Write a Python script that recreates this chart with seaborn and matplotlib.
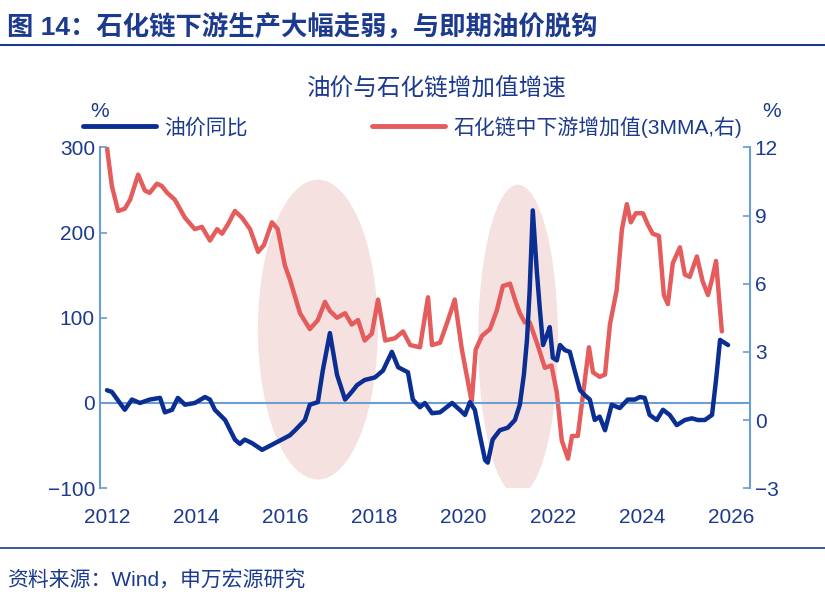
import numpy as np
import pandas as pd
import matplotlib
matplotlib.use("Agg")
import matplotlib.pyplot as plt
import seaborn as sns
from matplotlib.patches import Ellipse

# 油价同比 (%), left axis
oil_t = [2012.00, 2012.11, 2012.40, 2012.56, 2012.74, 2012.96, 2013.19, 2013.30, 2013.46, 2013.59,
         2013.75, 2013.97, 2014.20, 2014.31, 2014.42, 2014.65, 2014.87, 2014.98, 2015.09, 2015.25,
         2015.48, 2015.70, 2015.92, 2016.10, 2016.22, 2016.44, 2016.55, 2016.73, 2016.84, 2017.00,
         2017.16, 2017.34, 2017.49, 2017.61, 2017.78, 2018.01, 2018.19, 2018.39, 2018.53, 2018.75,
         2018.86, 2019.02, 2019.13, 2019.29, 2019.47, 2019.74, 2019.91, 2020.03, 2020.14, 2020.25,
         2020.36, 2020.48, 2020.54, 2020.65, 2020.81, 2020.99, 2021.15, 2021.26, 2021.35, 2021.42,
         2021.48, 2021.55, 2021.64, 2021.71, 2021.78, 2021.87, 2021.93, 2022.00, 2022.09, 2022.16,
         2022.27, 2022.38, 2022.49, 2022.61, 2022.72, 2022.83, 2022.94, 2023.05, 2023.17, 2023.32,
         2023.50, 2023.68, 2023.84, 2023.95, 2024.06, 2024.17, 2024.33, 2024.47, 2024.62, 2024.78,
         2024.96, 2025.12, 2025.25, 2025.41, 2025.57, 2025.66, 2025.75, 2025.93]
oil_v = [15, 13, -8, 4, 0, 4, 6, -11, -8, 6,
         -2, 0, 7, 4, -8, -20, -43, -48, -43, -47,
         -55, -49, -43, -38, -32, -20, -2, 1, 38, 82,
         33, 4, 13, 21, 27, 30, 38, 60, 42, 36,
         4, -5, 0, -12, -11, 0, -8, -14, 1, -8,
         -37, -67, -70, -43, -32, -29, -20, -2, 33, 74,
         132, 226, 155, 109, 68, 80, 89, 53, 50, 68,
         62, 60, 38, 15, 9, 4, -20, -16, -32, -2,
         -6, 4, 4, 7, 6, -14, -20, -8, -14, -26,
         -20, -18, -20, -20, -14, 27, 74, 68]

# 石化链中下游增加值 3MMA (%), right axis
chem_t = [2012.00, 2012.11, 2012.25, 2012.40, 2012.52, 2012.70, 2012.85, 2012.96, 2013.12, 2013.23,
          2013.35, 2013.52, 2013.75, 2013.97, 2014.13, 2014.31, 2014.47, 2014.58, 2014.71, 2014.87,
          2015.03, 2015.21, 2015.39, 2015.52, 2015.70, 2015.83, 2015.99, 2016.10, 2016.33, 2016.55,
          2016.73, 2016.89, 2017.00, 2017.16, 2017.34, 2017.49, 2017.63, 2017.78, 2017.94, 2018.08,
          2018.24, 2018.46, 2018.64, 2018.80, 2019.02, 2019.20, 2019.29, 2019.47, 2019.65, 2019.80,
          2019.96, 2020.18, 2020.27, 2020.41, 2020.59, 2020.74, 2020.88, 2021.04, 2021.15, 2021.26,
          2021.37, 2021.48, 2021.66, 2021.82, 2021.97, 2022.09, 2022.20, 2022.34, 2022.43, 2022.56,
          2022.72, 2022.81, 2022.90, 2023.05, 2023.17, 2023.28, 2023.43, 2023.55, 2023.66, 2023.75,
          2023.86, 2024.02, 2024.13, 2024.24, 2024.38, 2024.49, 2024.58, 2024.69, 2024.85, 2024.96,
          2025.07, 2025.23, 2025.36, 2025.48, 2025.57, 2025.66, 2025.79]
chem_v = [12.0, 10.3, 9.2, 9.3, 9.7, 10.8, 10.1, 10.0, 10.4, 10.3,
          10.0, 9.7, 8.9, 8.4, 8.5, 7.9, 8.4, 8.2, 8.6, 9.2,
          8.9, 8.4, 7.4, 7.7, 8.7, 8.4, 6.8, 6.2, 4.7, 4.0,
          4.4, 5.2, 4.8, 4.5, 4.7, 4.2, 4.4, 3.5, 3.8, 5.3,
          3.5, 3.6, 3.9, 3.3, 3.2, 5.4, 3.3, 3.4, 4.4, 5.3,
          3.1, 0.8, 3.1, 3.7, 4.0, 4.8, 5.9, 6.0, 5.3, 4.7,
          4.3, 4.3, 3.3, 2.3, 2.4, 1.2, -0.9, -1.7, -0.7, -0.7,
          1.8, 3.2, 2.1, 1.9, 2.0, 4.2, 5.7, 8.4, 9.5, 8.7,
          9.1, 9.1, 8.6, 8.2, 8.1, 5.5, 5.1, 6.9, 7.6, 6.4,
          6.3, 7.2, 6.1, 5.5, 6.2, 7.0, 3.9]

years = [2012, 2014, 2016, 2018, 2020, 2022, 2024, 2026]
left_ticks = [-100, 0, 100, 200, 300]
right_ticks = [-3, 0, 3, 6, 9, 12]

BLUE = "#0b2e93"
RED = "#e45c5c"
AXC = "#6b9fd3"
TXT = "#1c3a8e"

sns.set_theme(style="white")
plt.rcParams['font.family'] = ['Liberation Sans', 'Noto Sans CJK SC', 'DejaVu Sans']

fig = plt.figure(figsize=(8.25, 5.99), dpi=100)
ax = fig.add_axes([0.121, 0.185, 0.788, 0.569])
ax2 = ax.twinx()

# shaded regions (right-axis units so they sit under both lines)
for cx, cy, w, h in [(2016.73, 3.98, 2.69, 13.2), (2021.22, 3.53, 1.79, 13.65)]:
    ax2.add_patch(Ellipse((cx, cy), w, h, facecolor="#f5dcdc", edgecolor="none", alpha=0.85, zorder=0))

ax.axhline(0, color=AXC, lw=1.5, zorder=1)
sns.lineplot(x=oil_t, y=oil_v, ax=ax, color=BLUE, lw=3.2, zorder=3)
sns.lineplot(x=chem_t, y=chem_v, ax=ax2, color=RED, lw=3.2, zorder=2)
ax.set_zorder(ax2.get_zorder() + 1)
ax.patch.set_visible(False)

ax.set_xlim(2011.84, 2026.42)
ax.set_ylim(-100, 300)
ax2.set_ylim(-3, 12)
ax.set_xticks(years)
ax.set_yticks(left_ticks)
ax2.set_yticks(right_ticks)
ax.set_xticklabels([str(y) for y in years])

for a in (ax, ax2):
    for s in a.spines.values():
        s.set_visible(False)
ax.spines['left'].set_visible(True)
ax.spines['left'].set_color(AXC)
ax.spines['left'].set_linewidth(1.5)
ax2.spines['right'].set_visible(True)
ax2.spines['right'].set_color(AXC)
ax2.spines['right'].set_linewidth(1.5)

ax.tick_params(axis='y', direction='in', length=5, color=AXC, labelsize=15, labelcolor=TXT, left=True)
ax.tick_params(axis='x', length=0, labelsize=15, labelcolor=TXT, pad=14)
ax2.tick_params(axis='y', direction='in', length=5, color=AXC, labelsize=15, labelcolor=TXT, right=True)
ax.set_xlabel("")
ax.set_ylabel("")
ax2.set_ylabel("")

fig.text(0.121, 0.805, "%", fontsize=15, color=TXT, ha='center')
fig.text(0.935, 0.805, "%", fontsize=15, color=TXT, ha='center')
fig.text(0.53, 0.84, "油价与石化链增加值增速", fontsize=17, color=TXT, ha='center')

# legend
ax.plot([], [], color=BLUE, lw=3.5, label="油价同比")
ax.plot([], [], color=RED, lw=3.5, label="石化链中下游增加值(3MMA,右)")
leg = fig.legend(handles=ax.get_lines()[-2:], loc='center', bbox_to_anchor=(0.5, 0.788), ncol=2,
                 frameon=False, fontsize=15, handlelength=3.5, columnspacing=6, handletextpad=0.4)
for t in leg.get_texts():
    t.set_color(TXT)

# header and footer
fig.text(0.008, 0.955, "图 14：石化链下游生产大幅走弱，与即期油价脱钩", fontsize=19, fontweight='bold',
         color=TXT, va='center')
fig.add_artist(plt.Line2D([0.0, 1.0], [0.925, 0.925], color=TXT, lw=1.5))
fig.add_artist(plt.Line2D([0.0, 1.0], [0.085, 0.085], color=TXT, lw=1.2))
fig.text(0.008, 0.032, "资料来源：Wind，申万宏源研究", fontsize=15, color=TXT, va='center')

fig.savefig("out.png", dpi=100)
